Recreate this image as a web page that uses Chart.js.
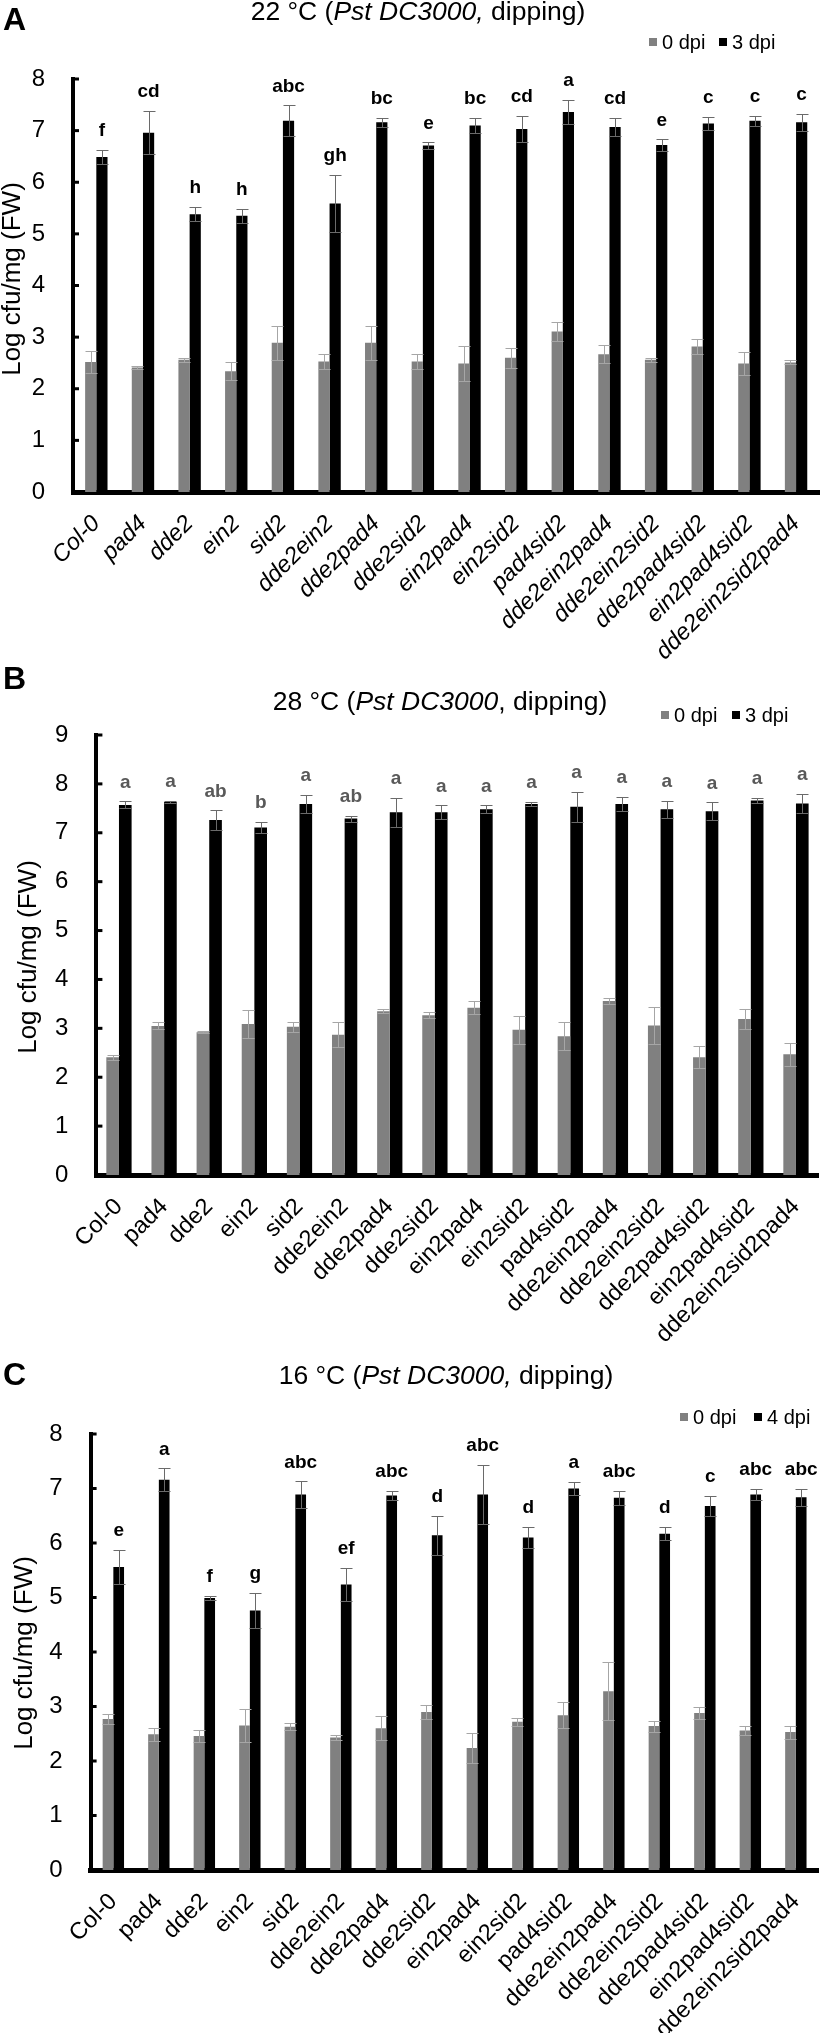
<!DOCTYPE html>
<html>
<head>
<meta charset="utf-8">
<title>Pst DC3000 growth</title>
<script src="https://cdn.jsdelivr.net/npm/chart.js@4.4.1/dist/chart.umd.min.js"></script>
<style>
  body { margin: 0; background: #fff; width: 826px; height: 2033px; position: relative; overflow: hidden; }
  .panel { position: absolute; left: 0; }
</style>
</head>
<body>
<div class="panel" style="top:0"><canvas id="chartA" width="826" height="720"></canvas></div>
<div class="panel" style="top:650px"><canvas id="chartB" width="826" height="720"></canvas></div>
<div class="panel" style="top:1330px"><canvas id="chartC" width="826" height="703"></canvas></div>
<script>
const genotypes = ['Col-0', 'pad4', 'dde2', 'ein2', 'sid2', 'dde2ein2', 'dde2pad4', 'dde2sid2',
  'ein2pad4', 'ein2sid2', 'pad4sid2', 'dde2ein2pad4', 'dde2ein2sid2', 'dde2pad4sid2',
  'ein2pad4sid2', 'dde2ein2sid2pad4']
const yTitle = 'Log cfu/mg (FW)'

// A: 22 °C
const a0dpi = [2.52, 2.41, 2.56, 2.34, 2.89, 2.53, 2.89, 2.53, 2.49, 2.60, 3.11, 2.67, 2.56, 2.82, 2.49, 2.51]
const a0err = [0.21, 0.03, 0.04, 0.17, 0.33, 0.15, 0.33, 0.15, 0.34, 0.19, 0.18, 0.18, 0.04, 0.15, 0.22, 0.04]
const a3dpi = [6.49, 6.96, 5.38, 5.35, 7.19, 5.59, 7.16, 6.71, 7.10, 7.03, 7.36, 7.07, 6.72, 7.14, 7.19, 7.16]
const a3err = [0.13, 0.42, 0.14, 0.14, 0.30, 0.56, 0.09, 0.06, 0.15, 0.25, 0.24, 0.18, 0.11, 0.12, 0.10, 0.16]
const aLetters = ['f', 'cd', 'h', 'h', 'abc', 'gh', 'bc', 'e', 'bc', 'cd', 'a', 'cd', 'e', 'c', 'c', 'c']

// B: 28 °C
const b0dpi = [2.41, 3.05, 2.92, 3.09, 3.03, 2.87, 3.35, 3.27, 3.42, 2.97, 2.84, 3.56, 3.06, 2.41, 3.19, 2.47]
const b0err = [0.05, 0.07, 0.02, 0.29, 0.10, 0.25, 0.04, 0.06, 0.13, 0.29, 0.28, 0.06, 0.38, 0.22, 0.21, 0.24]
const b3dpi = [7.57, 7.63, 7.26, 7.11, 7.59, 7.29, 7.42, 7.42, 7.48, 7.59, 7.53, 7.59, 7.48, 7.44, 7.66, 7.60]
const b3err = [0.07, 0.03, 0.20, 0.12, 0.19, 0.06, 0.30, 0.14, 0.08, 0.04, 0.30, 0.15, 0.17, 0.18, 0.05, 0.20]
const bLetters = ['a', 'a', 'ab', 'b', 'a', 'ab', 'a', 'a', 'a', 'a', 'a', 'a', 'a', 'a', 'a', 'a']

// C: 16 °C
const c0dpi = [2.77, 2.49, 2.46, 2.65, 2.63, 2.43, 2.60, 2.90, 2.24, 2.72, 2.84, 3.28, 2.64, 2.88, 2.56, 2.53]
const c0err = [0.10, 0.12, 0.11, 0.31, 0.06, 0.04, 0.22, 0.13, 0.27, 0.07, 0.24, 0.53, 0.10, 0.11, 0.08, 0.12]
const c4dpi = [5.56, 7.16, 4.99, 4.76, 6.89, 5.24, 6.87, 6.14, 6.89, 6.10, 7.00, 6.83, 6.17, 6.68, 6.89, 6.84]
const c4err = [0.32, 0.21, 0.04, 0.32, 0.24, 0.31, 0.09, 0.36, 0.54, 0.19, 0.12, 0.13, 0.12, 0.18, 0.10, 0.16]
const cLetters = ['e', 'a', 'f', 'g', 'abc', 'ef', 'abc', 'd', 'abc', 'd', 'a', 'abc', 'd', 'c', 'abc', 'abc']

const family = "'Liberation Sans', Arial, Helvetica, sans-serif"
Chart.defaults.font.family = family
Chart.defaults.color = '#000'

function decorations(p) {
  return {
    id: 'decorations',
    afterDatasetsDraw(chart) {
      const ctx = chart.ctx
      const y = chart.scales.y
      ctx.save()
      // error bars, both ways
      p.errors.forEach((err, i) => {
        const vals = chart.data.datasets[i].data
        ctx.strokeStyle = i === 0 ? '#a6a6a6' : '#6a6a6a'
        ctx.lineWidth = 1
        chart.getDatasetMeta(i).data.forEach((bar, j) => {
          const top = Math.round(y.getPixelForValue(vals[j] + err[j])) + 0.5
          const bot = Math.round(y.getPixelForValue(vals[j] - err[j])) + 0.5
          const x = Math.round(bar.x) + 0.5
          ctx.beginPath()
          ctx.moveTo(x, top); ctx.lineTo(x, bot)
          ctx.moveTo(x - 6, top); ctx.lineTo(x + 6, top)
          ctx.moveTo(x - 6, bot); ctx.lineTo(x + 6, bot)
          ctx.stroke()
        })
      })
      // significance letters over the later time point
      const vals = chart.data.datasets[1].data
      ctx.fillStyle = p.letterColor
      ctx.font = 'bold 19px ' + family
      ctx.textAlign = 'center'
      ctx.textBaseline = 'middle'
      chart.getDatasetMeta(1).data.forEach((bar, j) => {
        const top = y.getPixelForValue(vals[j] + p.errors[1][j])
        ctx.fillText(p.letters[j], bar.x, top - 19)
      })
      ctx.restore()
    },
    afterDraw(chart) {
      const ctx = chart.ctx
      const y = chart.scales.y
      const area = chart.chartArea
      ctx.save()
      // ticks point into the plot
      ctx.fillStyle = '#000'
      y.ticks.forEach(t => {
        const py = y.getPixelForValue(t.value)
        ctx.fillRect(area.left, py - 1.5, 6, 3)
      })
      // title, part of it in italics
      ctx.textAlign = 'left'
      ctx.textBaseline = 'middle'
      const fontOf = it => (it ? 'italic ' : '') + '26.5px ' + family
      let w = 0
      p.title.forEach(s => { ctx.font = fontOf(s.it); w += ctx.measureText(s.t).width })
      let x = p.titleX - w / 2
      p.title.forEach(s => {
        ctx.font = fontOf(s.it)
        ctx.fillText(s.t, x, p.titleY)
        x += ctx.measureText(s.t).width
      })
      // legend
      ctx.font = '20px ' + family
      chart.data.datasets.forEach((ds, k) => {
        const lx = p.legendX[k]
        ctx.fillStyle = ds.backgroundColor
        ctx.fillRect(lx, p.legendY - 4, 8, 8)
        ctx.fillStyle = '#000'
        ctx.fillText(ds.label, lx + 13, p.legendY + 1)
      })
      // panel letter and axis title
      ctx.font = 'bold 32px ' + family
      ctx.textBaseline = 'alphabetic'
      ctx.fillText(p.letter, 3, p.letterY)
      ctx.translate(p.yTitleX, p.yTitleY)
      ctx.rotate(-Math.PI / 2)
      ctx.font = '26px ' + family
      ctx.textAlign = 'center'
      ctx.textBaseline = 'middle'
      ctx.fillText(yTitle, 0, 0)
      ctx.restore()
    }
  }
}

function makeChart(id, p) {
  return new Chart(document.getElementById(id), {
    type: 'bar',
    data: {
      labels: genotypes,
      datasets: [
        { label: p.series[0], data: p.before, backgroundColor: '#808080', categoryPercentage: p.catPct, barPercentage: 1 },
        { label: p.series[1], data: p.after, backgroundColor: '#000000', categoryPercentage: p.catPct, barPercentage: 1 }
      ]
    },
    options: {
      responsive: false,
      animation: false,
      devicePixelRatio: 1,
      layout: { padding: { top: p.top, right: p.right, left: 0, bottom: 0 } },
      plugins: { legend: { display: false }, tooltip: { enabled: false } },
      scales: {
        x: {
          z: 1,
          grid: { display: false },
          border: { display: true, color: '#000', width: 5 },
          ticks: {
            autoSkip: false, minRotation: 45, maxRotation: 45, padding: 10, color: '#000',
            font: { size: 23.5, style: p.italic ? 'italic' : 'normal' }
          },
          afterFit: s => { s.height = p.xHeight }
        },
        y: {
          z: 1,
          min: 0,
          max: p.max,
          grid: { display: false },
          border: { display: true, color: '#000', width: 4 },
          ticks: { stepSize: 1, padding: 20, color: '#000', font: { size: 24 } },
          afterFit: s => { s.width = p.yWidth }
        }
      }
    },
    plugins: [decorations(p)]
  })
}

makeChart('chartA', {
  letter: 'A', letterY: 30,
  title: [{ t: '22 °C (', it: false }, { t: 'Pst DC3000,', it: true }, { t: ' dipping)', it: false }],
  titleX: 418, titleY: 13,
  series: ['0 dpi', '3 dpi'], legendX: [649, 719], legendY: 42,
  before: a0dpi, after: a3dpi, errors: [a0err, a3err], letters: aLetters, letterColor: '#000',
  max: 8, top: 79, right: 0, xHeight: 228, yWidth: 73, catPct: 0.48, italic: true,
  yTitleX: 13, yTitleY: 279
})

makeChart('chartB', {
  letter: 'B', letterY: 39,
  title: [{ t: '28 °C (', it: false }, { t: 'Pst DC3000', it: true }, { t: ', dipping)', it: false }],
  titleX: 440, titleY: 53,
  series: ['0 dpi', '3 dpi'], legendX: [661, 732], legendY: 65,
  before: b0dpi, after: b3dpi, errors: [b0err, b3err], letters: bLetters, letterColor: '#595959',
  max: 9, top: 85, right: 3, xHeight: 195, yWidth: 96.4, catPct: 0.56, italic: false,
  yTitleX: 29, yTitleY: 307
})

makeChart('chartC', {
  letter: 'C', letterY: 55,
  title: [{ t: '16 °C (', it: false }, { t: 'Pst DC3000,', it: true }, { t: ' dipping)', it: false }],
  titleX: 446, titleY: 47,
  series: ['0 dpi', '4 dpi'], legendX: [680, 754], legendY: 87,
  before: c0dpi, after: c4dpi, errors: [c0err, c4err], letters: cLetters, letterColor: '#000',
  max: 8, top: 104, right: 7, xHeight: 163, yWidth: 90.6, catPct: 0.47, italic: false,
  yTitleX: 25, yTitleY: 323
})
</script>
</body>
</html>
